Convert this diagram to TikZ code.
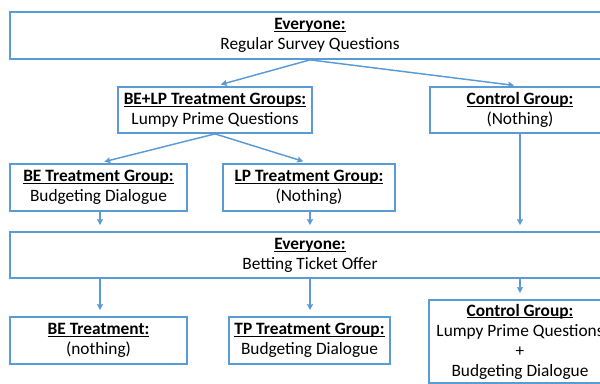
\documentclass[tikz,border=0pt]{standalone}
\usepackage{fontspec}
\setmainfont{Carlito}
\usepackage{tikz}
\usepackage{xcolor}
\usetikzlibrary{arrows.meta,positioning,calc}
\definecolor{grpblue}{HTML}{5B9BD5}
\newsavebox{\hdrbox}
\newcommand{\hdr}[1]{\sbox{\hdrbox}{\textbf{#1}}\rlap{\rule[-1.8pt]{\wd\hdrbox}{0.75pt}}\usebox{\hdrbox}}
\tikzset{
  grpbox/.style={draw=grpblue, line width=1.3pt, fill=white, align=center, inner sep=2pt, font=\fontsize{13}{15}\selectfont},
  flow/.style={-{Stealth[length=4.5pt, width=4.5pt, inset=0.6pt]}, line width=1.1pt, draw=grpblue, shorten >=4.5pt}
}

\begin{document}
\begin{tikzpicture}[x=0.75pt, y=-0.75pt]
  \useasboundingbox (0,0) rectangle (600,383);
  \clip (0,0) rectangle (600,383);
  \node[grpbox, minimum width=450pt, minimum height=35.25pt] (all1) at (310,35.5) {\hdr{Everyone:}\\Regular Survey Questions};
  \node[grpbox, minimum width=145.5pt, minimum height=34.5pt] (belp) at (215,110) {\hdr{BE+LP Treatment Groups:}\\Lumpy Prime Questions};
  \node[grpbox, minimum width=135pt, minimum height=34.5pt] (ctrlA) at (520,110) {\hdr{Control Group:}\\(Nothing)};
  \node[grpbox, minimum width=132.75pt, minimum height=35.25pt] (beA) at (98.5,187.5) {\hdr{BE Treatment Group:}\\Budgeting Dialogue};
  \node[grpbox, minimum width=129pt, minimum height=35.25pt] (lpA) at (309,187.5) {\hdr{LP Treatment Group:}\\(Nothing)};
  \node[grpbox, minimum width=450pt, minimum height=34.5pt] (all2) at (310,255) {\hdr{Everyone:}\\Betting Ticket Offer};
  \node[grpbox, minimum width=132.75pt, minimum height=35.25pt] (beB) at (98.5,340.5) {\hdr{BE Treatment:}\\(nothing)};
  \node[grpbox, minimum width=120.75pt, minimum height=35.25pt] (tpB) at (309.5,340.5) {\hdr{TP Treatment Group:}\\Budgeting Dialogue};
  \node[grpbox, minimum width=136pt, anchor=north, inner sep=3pt] (ctrlB) at (520,299) {\hdr{Control Group:}\\Lumpy Prime Questions\\+\\Budgeting Dialogue};

  \draw[flow] (all1.south) -- (belp.north);
  \draw[flow] (all1.south) -- (ctrlA.north);
  \draw[flow] (belp.south) -- (beA.north);
  \draw[flow] (belp.south) -- (lpA.north);
  \draw[flow] (beA.south -| 100,0) -- (all2.north -| 100,0);
  \draw[flow] (lpA.south -| 310,0) -- (all2.north -| 310,0);
  \draw[flow] (ctrlA.south) -- (ctrlA.south |- all2.north);
  \draw[flow] (all2.south -| 100,0) -- (beB.north -| 100,0);
  \draw[flow] (all2.south -| 310,0) -- (tpB.north -| 310,0);
  \draw[flow] (all2.south -| ctrlB.north) -- (ctrlB.north);
\end{tikzpicture}
\end{document}
